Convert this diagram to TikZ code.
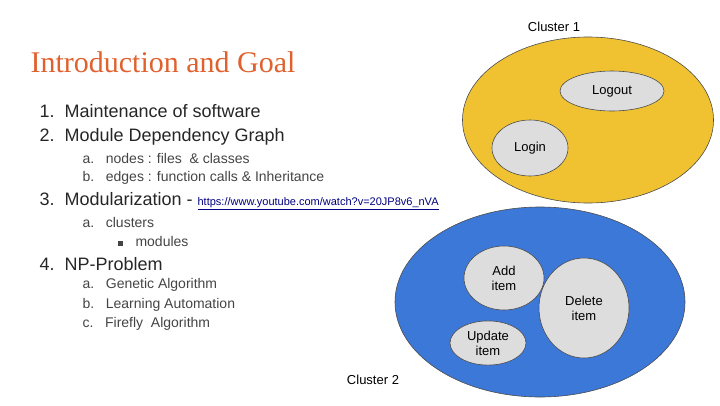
\documentclass[tikz,border=0pt]{standalone}
\usepackage{fontspec}
\setmainfont{Liberation Sans}
\newfontfamily\serifm{Liberation Serif}
\usetikzlibrary{shapes.geometric}
\definecolor{ttl}{HTML}{E0612E}
\definecolor{ylw}{HTML}{F0C232}
\definecolor{blu}{HTML}{3C78D8}
\definecolor{gry}{HTML}{DDDDDD}
\definecolor{txt}{HTML}{444444}
\begin{document}
\begin{tikzpicture}[x=1pt,y=-1pt,
  clus/.style={ellipse,draw=black!70,line width=0.6pt},
  item/.style={ellipse,draw=black!70,fill=gry,line width=0.6pt,align=center,font=\fontsize{13}{15}\selectfont},
  l1/.style={anchor=west,font=\fontsize{18}{20}\selectfont,text=black!85},
  l2/.style={anchor=west,font=\fontsize{14}{16}\selectfont,text=txt}]
\useasboundingbox (0,0) rectangle (720,405);
\node[clus,fill=ylw,minimum width=251,minimum height=166] (c1) at (588,120) {};
\node[clus,fill=blu,minimum width=290,minimum height=190] (c2) at (540,302) {};
\node[item,minimum width=104,minimum height=40] (logout) at (612,91) {Logout};
\node[item,minimum width=76,minimum height=56] (login) at (530,148) {Login};
\node[item,minimum width=80,minimum height=64] (add) at (504,278) {Add\\item};
\node[item,minimum width=90,minimum height=100] (del) at (584,308) {Delete\\item};
\node[item,minimum width=76,minimum height=44] (upd) at (488,343) {Update\\item};
\node[font=\fontsize{13}{15}\selectfont] (cl1) at (554,27) {Cluster 1};
\node[font=\fontsize{13}{15}\selectfont] (cl2) at (373,380) {Cluster 2};
\node[anchor=west,text=ttl,font=\serifm\fontsize{30}{32}\selectfont] (title) at (27,62) {Introduction and Goal};
\node[l1] (a1) at (36,111) {1.\ \ Maintenance of software};
\node[l1] (a2) at (36,137) {2.\ \ Module Dependency Graph};
\node[l2] (b1) at (79,158) {a.\ \ \ nodes : files \ \& classes};
\node[l2] (b2) at (79,178) {b.\ \ \ edges : function calls \& Inheritance};
\node[l1] (a3) at (36,201) {3.\ \ Modularization - \fontsize{11}{13}\selectfont\color{blue!50!black}\underline{https://www.youtube.com/watch?v=20JP8v6\_nVA}};
\node[l2] (b3) at (79,222) {a.\ \ \ clusters};
\node[l2] (b4) at (114,241) {\rule{5pt}{5pt}\hspace{13pt}modules};
\node[l1] (a4) at (36,264) {4.\ \ NP-Problem};
\node[l2] (b5) at (79,285) {a.\ \ \ Genetic Algorithm};
\node[l2] (b6) at (79,305) {b.\ \ \ Learning Automation};
\node[l2] (b7) at (79,324) {c.\ \ \ Firefly \ Algorithm};
\end{tikzpicture}
\end{document}
